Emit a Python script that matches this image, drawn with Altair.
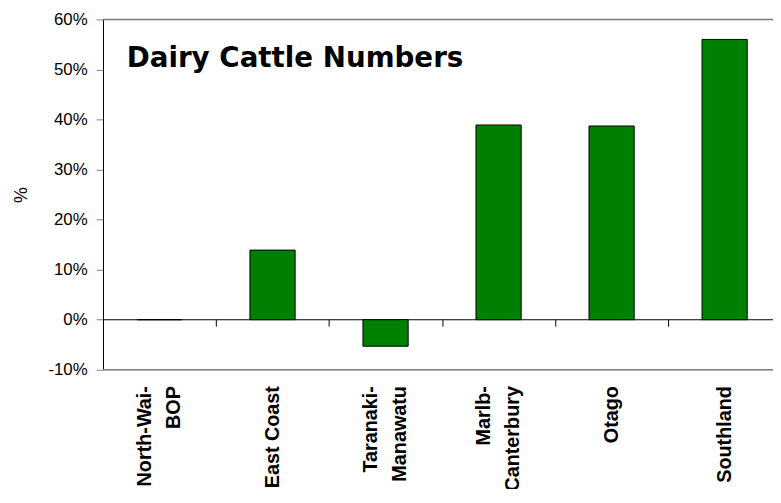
import json
import altair as alt
import pandas as pd

# ---- data ----
regions = ["North-Wai-|BOP", "East Coast", "Taranaki-|Manawatu",
           "Marlb-|Canterbury", "Otago", "Southland"]
change_pct = [0.0, 13.9, -5.3, 38.9, 38.7, 56.0]
y_ticks = [-10, 0, 10, 20, 30, 40, 50, 60]
frame_levels = [60, -10]
chart_title = ["Dairy Cattle Numbers"]

slot = list(range(len(regions)))
df = pd.DataFrame({"region": regions, "slot": slot, "change": change_pct})
frame_df = pd.DataFrame({"level": frame_levels})
title_df = pd.DataFrame({"t": chart_title})

FONT = "Liberation Sans"
names_js = json.dumps(regions)
name_of = f"{names_js}[round(datum.value + 0.5)]"
x_bounds = [s - 0.5 for s in slot]          # category boundaries (tick marks)

y_scale = alt.Scale(domain=[-10, 60], nice=False, zero=False)
y_axis = alt.Axis(values=y_ticks, labelExpr="datum.value + '%'", grid=False,
                  domainColor="black", domainWidth=1, tickColor="#808080",
                  tickSize=7, labelPadding=9, labelFont=FONT, labelFontSize=17,
                  labelColor="black", titleFont=FONT, titleFontSize=18,
                  titleFontWeight="normal", titleColor="black", titlePadding=18)

x_scale = alt.Scale(domain=[-0.5, 5.428], nice=False, zero=False)
x_axis = alt.Axis(values=x_bounds, offset=-51, grid=False,
                  domainColor="black", domainWidth=1,
                  tickColor="black", tickSize=7,
                  labelAngle=-90, labelAlign="right", labelBaseline="middle",
                  labelPadding=60, labelFlush=False, labelOverlap=False,
                  labelBound=False,
                  labelOffset={"condition": {"test": f"indexof({name_of}, '|') >= 0",
                                             "value": 42},
                               "value": 57},
                  labelExpr=f"split({name_of}, '|')",
                  labelFont=FONT, labelFontSize=20, labelFontWeight="bold",
                  labelColor="black", labelLineHeight=29)

frame = alt.Chart(frame_df).mark_rule(color="#808080", strokeWidth=1.5).encode(
    y=alt.Y("level:Q", scale=y_scale, axis=y_axis, title="%")
)

bars = alt.Chart(df).transform_calculate(
    left="datum.slot - 0.2", right="datum.slot + 0.2"
).mark_bar(color="#008000", stroke="black", strokeWidth=1).encode(
    x=alt.X("left:Q", scale=x_scale, axis=x_axis, title=None),
    x2="right:Q",
    y=alt.Y("change:Q", scale=y_scale, axis=y_axis, title="%"),
    y2=alt.datum(0),
)

title = alt.Chart(title_df).mark_text(
    align="left", baseline="alphabetic", font="DejaVu Sans", fontSize=28,
    fontWeight="bold", color="black"
).encode(x=alt.value(24), y=alt.value(48), text="t:N")

chart = alt.layer(frame, bars, title).properties(
    width=677, height=354,
    autosize=alt.AutoSizeParams(type="none"),
    padding={"left": 96, "top": 9, "right": 0, "bottom": 118},
).configure_view(stroke=None).configure(background="white")

chart.save("out.html", embed_options={"renderer": "svg", "actions": False})
